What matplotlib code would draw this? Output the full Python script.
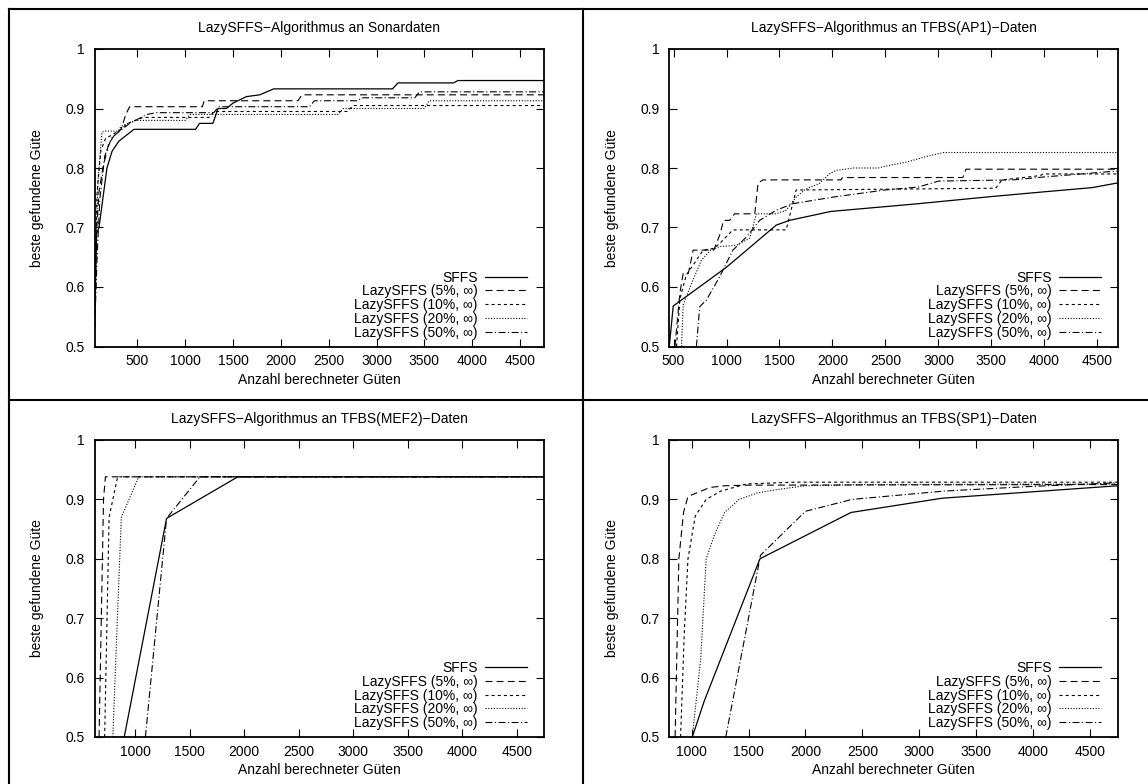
import matplotlib
matplotlib.use("Agg")
import matplotlib.pyplot as plt
from matplotlib.lines import Line2D
from matplotlib.ticker import FuncFormatter, MultipleLocator

plt.rcParams['font.family'] = ['Liberation Sans', 'DejaVu Sans']
plt.rcParams['font.size'] = 10
plt.rcParams['lines.scale_dashes'] = False

# ---------------- data ----------------
series_labels = ["SFFS", "LazySFFS (5%, ∞)", "LazySFFS (10%, ∞)",
                 "LazySFFS (20%, ∞)", "LazySFFS (50%, ∞)"]

titles = ["LazySFFS−Algorithmus an Sonardaten",
          "LazySFFS−Algorithmus an TFBS(AP1)−Daten",
          "LazySFFS−Algorithmus an TFBS(MEF2)−Daten",
          "LazySFFS−Algorithmus an TFBS(SP1)−Daten"]

xlabel = "Anzahl berechneter Güten"
ylabel = "beste gefundene Güte"

# Sonar data
sonar_sffs_x = [55, 75, 100, 183, 236, 307, 394, 465, 1109, 1150, 1290, 1344, 1430, 1500, 1641, 1780, 1926, 3167, 3225, 3806, 3850, 4750]
sonar_sffs_y = [0.535, 0.69, 0.70, 0.80, 0.828, 0.845, 0.856, 0.865, 0.865, 0.875, 0.875, 0.90, 0.90, 0.909, 0.92, 0.923, 0.933, 0.933, 0.943, 0.943, 0.947, 0.947]
sonar_l5_x = [55, 70, 100, 140, 200, 260, 330, 380, 420, 1180, 1200, 2180, 2220, 4750]
sonar_l5_y = [0.55, 0.68, 0.76, 0.80, 0.84, 0.855, 0.865, 0.89, 0.903, 0.903, 0.913, 0.913, 0.923, 0.923]
sonar_l10_x = [55, 80, 120, 170, 230, 330, 400, 560, 1250, 1300, 2700, 2750, 4750]
sonar_l10_y = [0.60, 0.76, 0.83, 0.85, 0.855, 0.865, 0.875, 0.885, 0.885, 0.895, 0.895, 0.905, 0.905]
sonar_l20_x = [55, 90, 130, 160, 300, 330, 480, 1000, 1050, 2600, 2650, 3500, 3550, 4750]
sonar_l20_y = [0.60, 0.78, 0.86, 0.862, 0.862, 0.87, 0.88, 0.88, 0.89, 0.89, 0.90, 0.90, 0.913, 0.913]
sonar_l50_x = [55, 80, 110, 160, 230, 300, 420, 600, 700, 1300, 1350, 2300, 2350, 2800, 2850, 3400, 3450, 4750]
sonar_l50_y = [0.53, 0.65, 0.75, 0.82, 0.85, 0.86, 0.875, 0.89, 0.893, 0.893, 0.903, 0.903, 0.913, 0.913, 0.918, 0.918, 0.928, 0.928]

# TFBS(AP1) data
ap1_sffs_x = [460, 497, 998, 1469, 1594, 1985, 2810, 3500, 4000, 4450, 4695]
ap1_sffs_y = [0.50, 0.568, 0.633, 0.704, 0.712, 0.727, 0.740, 0.752, 0.760, 0.767, 0.775]
ap1_l5_x = [513, 560, 591, 640, 685, 880, 935, 973, 1030, 1076, 1267, 1298, 1345, 2080, 2095, 3230, 3260, 4695]
ap1_l5_y = [0.50, 0.59, 0.623, 0.623, 0.662, 0.662, 0.687, 0.712, 0.712, 0.723, 0.723, 0.775, 0.78, 0.78, 0.784, 0.784, 0.798, 0.798]
ap1_l10_x = [528, 560, 620, 716, 780, 880, 935, 1060, 1563, 1657, 3540, 3600, 3950, 4000, 4695]
ap1_l10_y = [0.50, 0.58, 0.62, 0.645, 0.662, 0.665, 0.673, 0.696, 0.696, 0.763, 0.766, 0.78, 0.787, 0.79, 0.79]
ap1_l20_x = [575, 591, 670, 763, 850, 935, 1092, 1219, 1282, 1469, 1563, 1657, 1750, 1877, 1970, 2033, 2200, 2431, 2550, 2700, 2900, 3050, 4695]
ap1_l20_y = [0.50, 0.57, 0.606, 0.645, 0.662, 0.668, 0.67, 0.682, 0.723, 0.723, 0.729, 0.751, 0.765, 0.774, 0.79, 0.796, 0.80, 0.80, 0.805, 0.81, 0.82, 0.826, 0.826]
ap1_l50_x = [716, 747, 810, 935, 1060, 1188, 1313, 1469, 1625, 2002, 2494, 2810, 3000, 3700, 4000, 4695]
ap1_l50_y = [0.50, 0.567, 0.578, 0.617, 0.662, 0.684, 0.712, 0.729, 0.74, 0.751, 0.763, 0.768, 0.778, 0.78, 0.785, 0.795]

# TFBS(MEF2) data
mef2_sffs_x = [901, 1289, 1942, 4750]
mef2_sffs_y = [0.50, 0.868, 0.938, 0.938]
mef2_l5_x = [670, 711, 728, 4750]
mef2_l5_y = [0.50, 0.90, 0.938, 0.938]
mef2_l10_x = [721, 762, 840, 4750]
mef2_l10_y = [0.50, 0.87, 0.938, 0.938]
mef2_l20_x = [796, 874, 1034, 4750]
mef2_l20_y = [0.50, 0.87, 0.938, 0.938]
mef2_l50_x = [1095, 1289, 1595, 4750]
mef2_l50_y = [0.50, 0.868, 0.938, 0.938]

# TFBS(SP1) data
sp1_sffs_x = [1006, 1110, 1600, 2400, 3200, 4745]
sp1_sffs_y = [0.50, 0.56, 0.80, 0.878, 0.902, 0.923]
sp1_l5_x = [855, 888, 929, 968, 1032, 1160, 1290, 1500, 4745]
sp1_l5_y = [0.50, 0.80, 0.878, 0.905, 0.91, 0.92, 0.923, 0.924, 0.925]
sp1_l10_x = [903, 936, 968, 1032, 1128, 1257, 1482, 1900, 4745]
sp1_l10_y = [0.50, 0.677, 0.80, 0.872, 0.90, 0.914, 0.926, 0.929, 0.929]
sp1_l20_x = [1006, 1080, 1128, 1200, 1289, 1418, 1578, 1771, 1996, 2500, 4745]
sp1_l20_y = [0.50, 0.632, 0.80, 0.84, 0.878, 0.90, 0.911, 0.917, 0.923, 0.925, 0.926]
sp1_l50_x = [1300, 1605, 2000, 2410, 3215, 4000, 4745]
sp1_l50_y = [0.50, 0.806, 0.88, 0.90, 0.914, 0.922, 0.928]

x_limits = [(55, 4750), (460, 4695), (630, 4750), (804, 4745)]
x_tick_starts = [500, 500, 1000, 1000]

panels = [
    [(sonar_sffs_x, sonar_sffs_y), (sonar_l5_x, sonar_l5_y), (sonar_l10_x, sonar_l10_y),
     (sonar_l20_x, sonar_l20_y), (sonar_l50_x, sonar_l50_y)],
    [(ap1_sffs_x, ap1_sffs_y), (ap1_l5_x, ap1_l5_y), (ap1_l10_x, ap1_l10_y),
     (ap1_l20_x, ap1_l20_y), (ap1_l50_x, ap1_l50_y)],
    [(mef2_sffs_x, mef2_sffs_y), (mef2_l5_x, mef2_l5_y), (mef2_l10_x, mef2_l10_y),
     (mef2_l20_x, mef2_l20_y), (mef2_l50_x, mef2_l50_y)],
    [(sp1_sffs_x, sp1_sffs_y), (sp1_l5_x, sp1_l5_y), (sp1_l10_x, sp1_l10_y),
     (sp1_l20_x, sp1_l20_y), (sp1_l50_x, sp1_l50_y)],
]

# gnuplot-like line types (dash patterns in points)
line_styles = [
    dict(linestyle='-', linewidth=0.9),
    dict(linestyle=(0, (5.0, 3.0)), linewidth=0.8),
    dict(linestyle=(0, (2.2, 2.2)), linewidth=0.8),
    dict(linestyle=(0, (0.8, 1.2)), linewidth=0.8),
    dict(linestyle=(0, (5.0, 1.8, 0.8, 1.8)), linewidth=0.8),
]

# ---------------- layout ----------------
W, H = 1148, 784
fig = plt.figure(figsize=(W / 100, H / 100), dpi=100)
fig.patch.set_facecolor('white')

# axes boxes in pixels: (left, top, right, bottom)
boxes = [(94.7, 49, 544, 346.5), (669.3, 49, 1118, 346.5),
         (94.7, 440, 544, 737), (669.3, 440, 1118, 737)]


def rect(b):
    l, t, r, btm = b
    return [l / W, 1 - btm / H, (r - l) / W, (btm - t) / H]


# frame lines separating the four plots
for (x0, y0, x1, y1) in [(9, 9, 9, H), (9, 9, W, 9), (583, 9, 583, H), (9, 400, W, 400)]:
    fig.add_artist(Line2D([x0 / W, x1 / W], [1 - y0 / H, 1 - y1 / H],
                          transform=fig.transFigure, color='black', linewidth=1.5))

fmt = FuncFormatter(lambda v, p: '%g' % v)

for i, b in enumerate(boxes):
    ax = fig.add_axes(rect(b))
    for (xs, ys), lab, st in zip(panels[i], series_labels, line_styles):
        ax.plot(xs, ys, color='black', label=lab, **st)
    ax.set_xlim(*x_limits[i])
    ax.set_ylim(0.5, 1.0)
    ax.set_xticks(list(range(x_tick_starts[i], 4501, 500)))
    ax.yaxis.set_major_locator(MultipleLocator(0.1))
    ax.yaxis.set_major_formatter(fmt)
    ax.tick_params(direction='in', length=6, width=0.8, top=True, right=True,
                   labelsize=10, colors='black')
    ax.tick_params(axis='y', pad=7)
    ax.tick_params(axis='x', pad=5.5)
    for sp in ax.spines.values():
        sp.set_linewidth(1.3)
    hgt = b[3] - b[1]
    wid = b[2] - b[0]
    ax.text(0.5, 1 + 21 / hgt, titles[i], transform=ax.transAxes,
            ha='center', va='center', fontsize=10)
    ax.text(0.5, -33.5 / hgt, xlabel, transform=ax.transAxes,
            ha='center', va='center', fontsize=10)
    ax.text(-57.7 / wid, 0.5, ylabel, transform=ax.transAxes, rotation=90,
            ha='center', va='center', fontsize=10)
    leg = ax.legend(loc='lower right', bbox_to_anchor=(1 - 17 / wid, 7 / hgt),
                    frameon=False, markerfirst=False, handlelength=3.0,
                    handletextpad=0.55, labelspacing=-0.02, borderpad=0,
                    borderaxespad=0, fontsize=10)

fig.savefig('out.png', dpi=100, facecolor='white')
